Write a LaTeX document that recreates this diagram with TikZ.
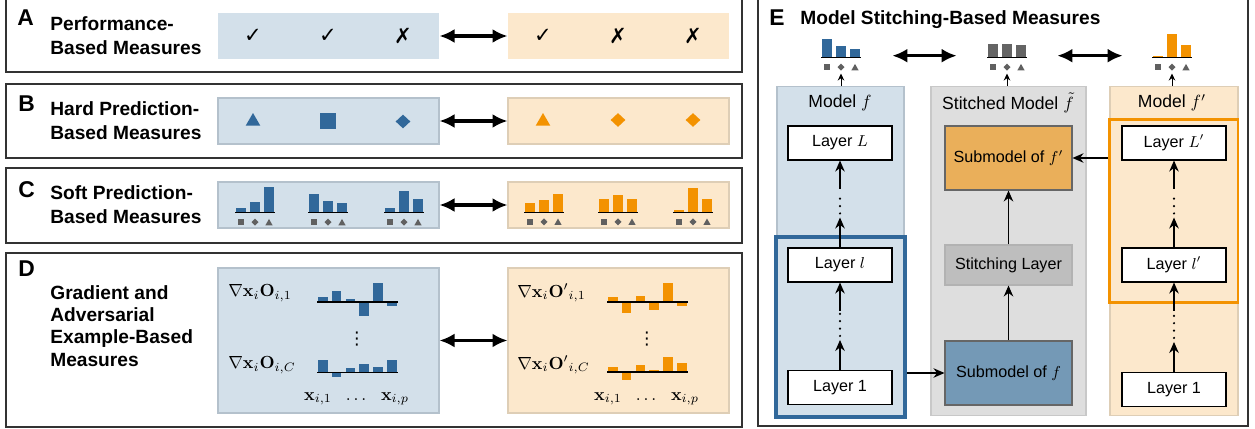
\documentclass[tikz,border=0pt]{standalone}
\usepackage[no-math]{fontspec}
\setmainfont{Liberation Sans}
\newfontfamily\symfont{DejaVu Sans}
\usetikzlibrary{arrows.meta,calc,shapes.geometric}

\definecolor{barblue}{RGB}{49,104,154}
\definecolor{barorange}{RGB}{243,146,0}
\definecolor{bargrey}{RGB}{100,100,100}
\definecolor{icongrey}{RGB}{96,96,96}
\definecolor{bgblue}{RGB}{211,224,234}
\definecolor{bgorange}{RGB}{252,232,204}
\definecolor{bggrey}{RGB}{222,222,222}
\definecolor{edgeblue}{RGB}{180,193,204}
\definecolor{edgeorange}{RGB}{222,206,182}
\definecolor{edgegrey}{RGB}{200,200,200}
\definecolor{subfblue}{RGB}{116,153,182}
\definecolor{subforange}{RGB}{234,175,90}
\definecolor{stitchgrey}{RGB}{190,190,190}

\newcommand{\yes}{{\symfont ✓}}
\newcommand{\no}{{\symfont ✗}}

% three-bar soft prediction: x, baseline, colour, heights
\newcommand{\histo}[6]{%
  \fill[#3] (#1-19,#2) rectangle ++(10,{-(#4)});
  \fill[#3] (#1-5,#2) rectangle ++(10,{-(#5)});
  \fill[#3] (#1+9,#2) rectangle ++(10,{-(#6)});
  \draw[line width=0.8pt] (#1-20,#2) -- (#1+20,#2);
  \fill[icongrey] (#1-17,#2+6.5) rectangle ++(6,6);
  \fill[icongrey] (#1,#2+6) -- (#1+3.5,#2+9.5) -- (#1,#2+13) -- (#1-3.5,#2+9.5) -- cycle;
  \fill[icongrey] (#1+14,#2+6.2) -- (#1+17.6,#2+12.6) -- (#1+10.4,#2+12.6) -- cycle;
}
% gradient bars: first x, baseline, colour, heights
\newcommand{\gradbars}[4]{%
  \foreach \h [count=\k from 0] in {#4}
    \fill[#3] ({#1+\k*13.8},#2) rectangle ++(9.5,{-(\h)});
  \draw[line width=0.8pt] (#1-1,#2) -- (#1+80,#2);
}

\begin{document}
\begin{tikzpicture}[x=0.02cm, y=-0.02cm,
  panel/.style={draw=black!80, line width=1.1pt},
  tag/.style={font=\fontsize{13}{13}\selectfont\bfseries, anchor=base west, inner sep=0pt},
  head/.style={font=\fontsize{10.9}{13.8}\selectfont\bfseries, align=left, anchor=west, inner sep=0pt},
  bluebox/.style={fill=bgblue, draw=edgeblue, line width=0.6pt, minimum width=4.42cm, minimum height=0.92cm},
  orangebox/.style={fill=bgorange, draw=edgeorange, line width=0.6pt, minimum width=4.42cm, minimum height=0.92cm},
  vote/.style={font=\fontsize{12}{12}\selectfont, inner sep=0pt},
  tri/.style={regular polygon, regular polygon sides=3, minimum size=0.34cm, inner sep=0pt},
  sq/.style={minimum size=0.32cm, inner sep=0pt},
  dia/.style={diamond, minimum width=0.3cm, minimum height=0.28cm, inner sep=0pt},
  twoway/.style={{Latex[length=3mm,width=2.8mm]}-{Latex[length=3mm,width=2.8mm]}, line width=2pt},
  col/.style={line width=0.6pt, minimum width=2.54cm, minimum height=6.6cm},
  coltitle/.style={font=\fontsize{10}{12}\selectfont, inner sep=0pt},
  layer/.style={draw=black, fill=white, line width=0.6pt, minimum width=2.08cm, minimum height=0.68cm,
    font=\fontsize{9.2}{11}\selectfont, inner sep=0pt},
  sub/.style={draw=black!60, line width=0.6pt, minimum width=2.54cm, minimum height=1.28cm,
    font=\fontsize{9.2}{11}\selectfont, inner sep=0pt},
  up/.style={-{Stealth[length=2.2mm,width=1.9mm]}, line width=0.7pt},
  upsmall/.style={-{Stealth[length=1.4mm,width=1.3mm]}, line width=0.5pt},
  dotline/.style={line width=1.4pt, line cap=round, dash pattern=on 0pt off 4.2pt}
]
\useasboundingbox (0,0) rectangle (1255,429);

% Panel frames.
\draw[panel] (6,-5) rectangle (742,72);
\draw[panel] (6,84) rectangle (742,158);
\draw[panel] (6,168) rectangle (742,243);
\draw[panel] (6,253) rectangle (742,427);
\draw[panel] (758,-5) rectangle (1248,426);

\node[tag] (tagA) at (17,26) {A};
\node[tag] (tagB) at (18,112) {B};
\node[tag] (tagC) at (18,197) {C};
\node[tag] (tagD) at (18,276) {D};
\node[tag] (tagE) at (769,26) {E};

\node[head] (headA) at (50,36) {Performance-\\Based Measures};
\node[head] (headB) at (50,121) {Hard Prediction-\\Based Measures};
\node[head] (headC) at (50,205) {Soft Prediction-\\Based Measures};
\node[head, font=\fontsize{10.9}{12.6}\selectfont\bfseries] (headD) at (50,326)
  {Gradient and\\Adversarial\\Example-Based\\Measures};
\node[head, anchor=base west] (headE) at (800,25) {Model Stitching-Based Measures};

% A: performance.
\node[bluebox, draw=none] (perfB) at (328.5,36) {};
\node[orangebox, draw=none] (perfO) at (618.5,36) {};
\draw[twoway] (perfB) -- (perfO);
\foreach \x/\s [count=\k] in {253/\yes, 328/\yes, 403/\no}
  \node[vote] (voteB\k) at (\x,36) {\s};
\foreach \x/\s [count=\k] in {543/\yes, 618/\no, 693/\no}
  \node[vote] (voteO\k) at (\x,36) {\s};

% B: hard predictions.
\node[bluebox] (hardB) at (328.5,121) {};
\node[orangebox] (hardO) at (618.5,121) {};
\draw[twoway] (hardB) -- (hardO);
\node[tri, fill=barblue] (predB1) at (253,121.5) {};
\node[sq, fill=barblue] (predB2) at (328,121) {};
\node[dia, fill=barblue] (predB3) at (403,121.5) {};
\node[tri, fill=barorange] (predO1) at (543,121.5) {};
\node[dia, fill=barorange] (predO2) at (618,120) {};
\node[dia, fill=barorange] (predO3) at (693,120) {};

% C: soft predictions.
\node[bluebox] (softB) at (328.5,205) {};
\node[orangebox] (softO) at (618.5,205) {};
\draw[twoway] (softB) -- (softO);
\histo{255}{212.7}{barblue}{4.4}{10.7}{26}
\histo{328}{212.7}{barblue}{18.7}{11.7}{9.7}
\histo{404}{212.7}{barblue}{5}{22}{13.7}
\histo{544}{212.3}{barorange}{9.7}{12.7}{18.7}
\histo{618}{212.3}{barorange}{13.3}{17.7}{13.3}
\histo{693}{212.3}{barorange}{2.3}{24.7}{13.3}

% D: gradients.
\node[bluebox, minimum height=2.9cm] (gradB) at (328.5,340.5) {};
\node[orangebox, minimum height=2.9cm] (gradO) at (618.5,340.5) {};
\draw[twoway] (gradB) -- (gradO);
\node[anchor=west, inner sep=0pt] (gB1) at (228,293) {$\nabla\mathbf{x}_i\mathbf{O}_{i,1}$};
\node[anchor=west, inner sep=0pt] (gBC) at (228,365) {$\nabla\mathbf{x}_i\mathbf{O}_{i,C}$};
\node[anchor=west, inner sep=0pt] (gO1) at (517,293) {$\nabla\mathbf{x}_i\mathbf{O}'{}_{i,1}$};
\node[anchor=west, inner sep=0pt] (gOC) at (517,365) {$\nabla\mathbf{x}_i\mathbf{O}'{}_{i,C}$};
\gradbars{318}{302}{barblue}{4.7,10.7,3.3,-14,19,-4}
\gradbars{318}{372.3}{barblue}{12.3,-4.3,4.3,8.3,5.3,12.3}
\gradbars{608}{302}{barorange}{4.7,-11,5.7,-8.3,18.7,-4}
\gradbars{608}{372}{barorange}{5,-7.7,7,2,15,9}
\node[inner sep=0pt, font=\symfont\fontsize{10}{10}\selectfont] (vdB) at (357,339) {⋮};
\node[inner sep=0pt, font=\symfont\fontsize{10}{10}\selectfont] (vdO) at (647,339) {⋮};
\node[anchor=base] (xB1) at (318,400) {$\mathbf{x}_{i,1}$};
\node[anchor=base] (xBd) at (356,400) {$\dots$};
\node[anchor=base] (xBp) at (395,400) {$\mathbf{x}_{i,p}$};
\node[anchor=base] (xO1) at (608,400) {$\mathbf{x}_{i,1}$};
\node[anchor=base] (xOd) at (646,400) {$\dots$};
\node[anchor=base] (xOp) at (685,400) {$\mathbf{x}_{i,p}$};

% E: model stitching.
\node[col, fill=bgblue, draw=edgeblue] (colB) at (840.5,251) {};
\node[col, fill=bggrey, draw=edgegrey, minimum width=3.1cm] (colG) at (1008.5,251) {};
\node[col, fill=bgorange, draw=edgeorange, minimum width=2.56cm] (colO) at (1174,251) {};
\node[coltitle] (titB) at (840,103) {Model $f$};
\node[coltitle] (titG) at (1008,103) {Stitched Model $\tilde{f}$};
\node[coltitle] (titO) at (1172,103) {Model $f'$};

\node[minimum width=2.04cm, minimum height=0.5cm] (outB) at (841,55.7) {};
\node[minimum width=2cm, minimum height=0.5cm] (outG) at (1007,55.7) {};
\node[minimum width=1.96cm, minimum height=0.5cm] (outO) at (1172,55.7) {};
\histo{841}{57.7}{barblue}{18.7}{11.7}{8.7}
\histo{1007}{57.7}{bargrey}{13.7}{13.7}{12.3}
\histo{1172}{57.7}{barorange}{1.7}{24}{13}
\draw[twoway] (outB) -- (outG);
\draw[twoway] (outG) -- (outO);
\foreach \c/\o in {colB/outB, colG/outG, colO/outO}
  \draw[upsmall] (\c.north -| \o) -- ++(0,-12);

\node[draw=barblue, line width=1.9pt, minimum width=2.58cm, minimum height=3.6cm] (frameB) at (840.5,327) {};
\node[draw=barorange, line width=1.7pt, minimum width=2.58cm, minimum height=3.68cm] (frameO) at (1173.5,211) {};

\node[layer] (bL) at (840,143) {Layer $L$};
\node[layer] (bl) at (840,265) {Layer $l$};
\node[layer] (b1) at (840,387.5) {Layer 1};
\node[layer] (oL) at (1174,143) {Layer $L'$};
\node[layer] (ol) at (1174,265) {Layer $l'$};
\node[layer] (o1) at (1174,389.5) {Layer 1};

\node[sub, fill=subforange] (subO) at (1008.5,158) {Submodel of $f'$};
\node[sub, fill=stitchgrey, draw=black!30, minimum height=0.8cm] (stitch) at (1008.5,265) {Stitching Layer};
\node[sub, fill=subfblue] (subB) at (1008.5,373) {Submodel of $f$};

\draw[up] (subB) -- (stitch);
\draw[up] (stitch) -- (subO);
\draw[up] (frameB.east |- subB.west) -- (subB.west);
\draw[up] (frameO.west |- subO.east) -- (subO.east);

% layer chains with skipped layers
\foreach \lo/\hi in {b1/bl, bl/bL, o1/ol, ol/oL} {
  \draw[up] (\lo.north) -- ++(0,-30) coordinate (\lo-a);
  \draw[dotline] ($(\lo-a)+(0,-4)$) -- ($(\hi.south)+(0,31)$);
  \draw[up] ($(\hi.south)+(0,28)$) -- (\hi.south);
}

\end{tikzpicture}
\end{document}
